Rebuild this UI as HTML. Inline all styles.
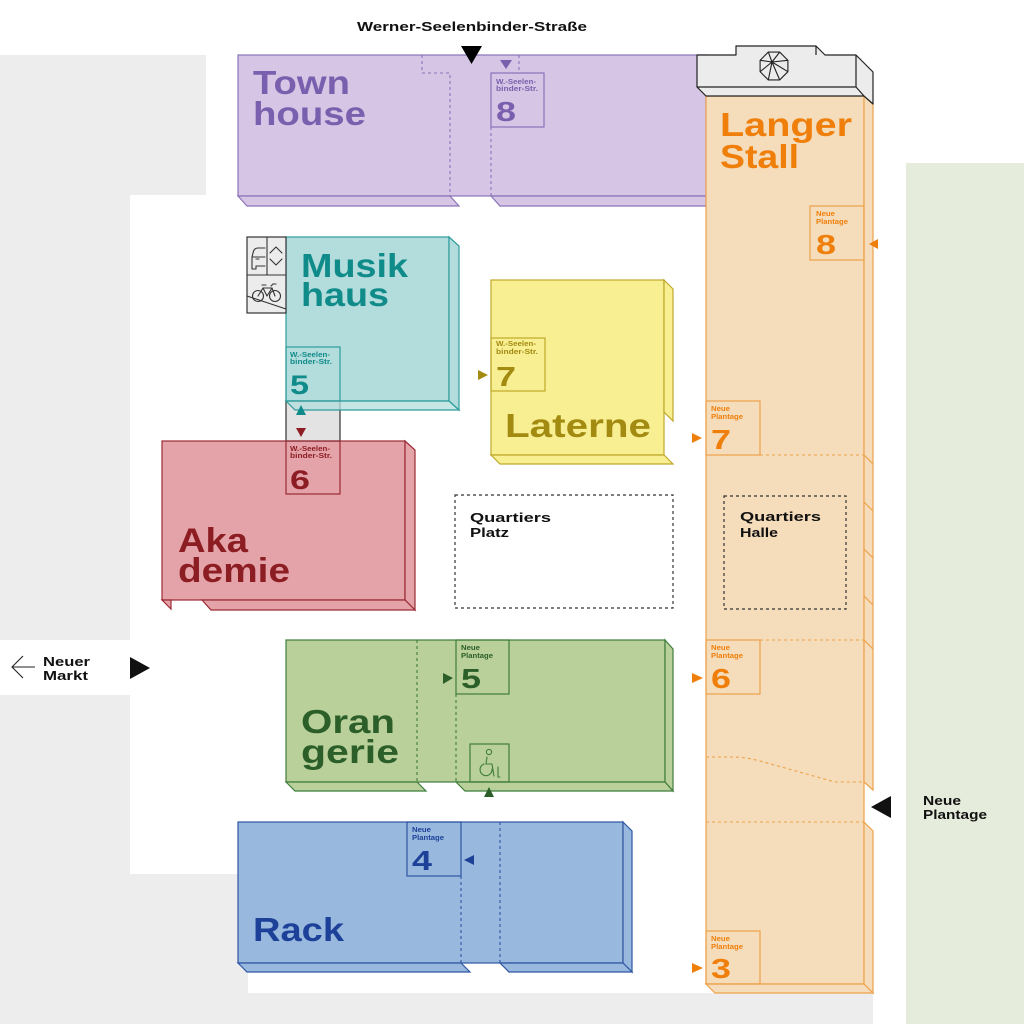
<!DOCTYPE html>
<html><head><meta charset="utf-8">
<style>
html,body{margin:0;padding:0;background:#fff}
svg{display:block}
text{font-family:"Liberation Sans",Arial,sans-serif;font-weight:700}
</style></head><body>
<svg width="1024" height="1024" viewBox="0 0 1024 1024" xmlns="http://www.w3.org/2000/svg">
<rect width="1024" height="1024" fill="#fff"/>
<path d="M0,55 H206 V195 H130 V640 H0 Z M0,695 H130 V874 H248 V993 H873 V1024 H0 Z" fill="#ededed"/>
<rect x="906" y="163" width="118" height="861" fill="#e6ecdb"/>

<!-- Street label -->
<text x="357" y="31" font-size="12.5" fill="#111" textLength="230" lengthAdjust="spacingAndGlyphs">Werner-Seelenbinder-Straße</text>

<!-- Townhouse -->
<g fill="#d6c5e4" stroke="#8a74b8" stroke-width="1.2">
<rect x="238" y="55" width="468" height="141"/>
<polygon points="238,196 450,196 459,206 247,206"/>
<polygon points="491,196 706,196 706,206 500,206"/>
</g>
<g fill="none" stroke="#8a74b8" stroke-width="1.1" stroke-dasharray="3 3">
<path d="M422,55 V73 H450 V196"/>
<path d="M519,55 V73"/>
<path d="M491,127 V196"/>
</g>
<rect x="491" y="73" width="53" height="54" fill="none" stroke="#8a74b8" stroke-width="1.2"/>
<polygon points="500,60 512,60 506,69" fill="#7a5fae"/>
<polygon points="461,46 482,46 471.5,64" fill="#000"/>
<g fill="#7a5fae">
<text x="253" y="94" font-size="33" textLength="97" lengthAdjust="spacingAndGlyphs">Town</text>
<text x="253" y="125" font-size="33" textLength="113" lengthAdjust="spacingAndGlyphs">house</text>
<text x="496" y="84" font-size="7.5" textLength="40" lengthAdjust="spacingAndGlyphs">W.-Seelen-</text>
<text x="496" y="91" font-size="7.5" textLength="42" lengthAdjust="spacingAndGlyphs">binder-Str.</text>
<text x="496" y="121" font-size="28" textLength="20" lengthAdjust="spacingAndGlyphs">8</text>
</g>

<!-- Langer Stall -->
<g fill="#f5dcbb" stroke="#eda24a" stroke-width="1.2">
<rect x="706" y="96" width="158" height="888"/>
<polygon points="864,96 873,104 873,790 864,782"/>
<polygon points="864,822 873,831 873,993 864,984"/>
<polygon points="706,984 864,984 873,993 715,993"/>
</g>
<g stroke="#eda24a" stroke-width="1.2" fill="none">
<path d="M864,455 L873,464 M864,502 L873,511 M864,549 L873,558 M864,596 L873,605 M864,640 L873,649"/>
</g>
<g fill="none" stroke="#eda24a" stroke-width="1.1" stroke-dasharray="3 3">
<path d="M760,455 H864"/>
<path d="M760,640 H864"/>
<path d="M706,822 H864"/>
<path d="M706,757 L733,757 Q745,757 760,761 L835,782 L864,782"/>
</g>
<g fill="none" stroke="#eda24a" stroke-width="1.2">
<rect x="810" y="206" width="54" height="54"/>
<rect x="706" y="401" width="54" height="54"/>
<rect x="706" y="640" width="54" height="54"/>
<rect x="706" y="931" width="54" height="53"/>
</g>
<g fill="#ef7f0a">
<text x="720" y="136" font-size="33" textLength="132" lengthAdjust="spacingAndGlyphs">Langer</text>
<text x="720" y="168" font-size="33" textLength="79" lengthAdjust="spacingAndGlyphs">Stall</text>
<text x="816" y="216" font-size="7.5" textLength="19" lengthAdjust="spacingAndGlyphs">Neue</text>
<text x="816" y="224" font-size="7.5" textLength="32" lengthAdjust="spacingAndGlyphs">Plantage</text>
<text x="816" y="254" font-size="28" textLength="20" lengthAdjust="spacingAndGlyphs">8</text>
<text x="711" y="411" font-size="7.5" textLength="19" lengthAdjust="spacingAndGlyphs">Neue</text>
<text x="711" y="419" font-size="7.5" textLength="32" lengthAdjust="spacingAndGlyphs">Plantage</text>
<text x="711" y="449" font-size="28" textLength="20" lengthAdjust="spacingAndGlyphs">7</text>
<text x="711" y="650" font-size="7.5" textLength="19" lengthAdjust="spacingAndGlyphs">Neue</text>
<text x="711" y="658" font-size="7.5" textLength="32" lengthAdjust="spacingAndGlyphs">Plantage</text>
<text x="711" y="688" font-size="28" textLength="20" lengthAdjust="spacingAndGlyphs">6</text>
<text x="711" y="941" font-size="7.5" textLength="19" lengthAdjust="spacingAndGlyphs">Neue</text>
<text x="711" y="949" font-size="7.5" textLength="32" lengthAdjust="spacingAndGlyphs">Plantage</text>
<text x="711" y="978" font-size="28" textLength="20" lengthAdjust="spacingAndGlyphs">3</text>
<polygon points="878,239 869,244 878,249"/>
<polygon points="692,433 702,438 692,443"/>
<polygon points="692,673 703,678 692,683"/>
<polygon points="692,963 703,968 692,973"/>
</g>

<!-- Gray cap -->
<polygon points="697,55 736,55 736,46 816,46 825,55 856,55 873,72 873,104 864,96 706,96 697,87" fill="#ececec" stroke="#222" stroke-width="1.2" stroke-linejoin="round"/>
<g fill="none" stroke="#222" stroke-width="1.2">
<path d="M697,87 H856 V55 M856,87 L864,96 M816,46 V55"/>
</g>
<g fill="none" stroke="#222" stroke-width="1.1">
<polygon points="787.9,71.7 779.7,79.9 768.3,79.9 760.1,71.7 760.1,60.3 768.3,52.1 779.7,52.1 787.9,60.3"/>
<path d="M772,62 L787.9,71.7 M772,62 L779.7,79.9 M772,62 L768.3,79.9 M772,62 L760.1,71.7 M772,62 L760.1,60.3 M772,62 L768.3,52.1 M772,62 L779.7,52.1 M772,62 L787.9,60.3"/>
</g>
<circle cx="772" cy="62" r="1.5" fill="#222"/>

<!-- Akademie -->
<g fill="#e4a3a8" stroke="#9b2b35" stroke-width="1.2">
<rect x="162" y="441" width="243" height="159"/>
<polygon points="405,441 415,450 415,610 405,600"/>
<polygon points="162,600 171,600 171,609"/>
<polygon points="202,600 405,600 415,610 211,610"/>
</g>

<!-- Connector -->
<rect x="286" y="401" width="54" height="40" fill="#e3e3e3" stroke="#333" stroke-width="1.2"/>

<!-- Musikhaus -->
<g fill="#b3dcdc" stroke="#2e9c9c" stroke-width="1.2">
<rect x="286" y="237" width="163" height="164"/>
<polygon points="449,237 459,246 459,410 449,401"/>
<polygon points="286,401 449,401 459,410 295,410" fill-opacity="0.75"/>
</g>
<rect x="286" y="347" width="54" height="54" fill="none" stroke="#2e9c9c" stroke-width="1.2"/>
<polygon points="296,415 301,405 306,415" fill="#0f8b8a"/>
<polygon points="296,428 306,428 301,437" fill="#8b1d23"/>
<g fill="#0f8b8a">
<text x="301" y="277" font-size="33" textLength="107" lengthAdjust="spacingAndGlyphs">Musik</text>
<text x="301" y="306" font-size="33" textLength="88" lengthAdjust="spacingAndGlyphs">haus</text>
<text x="290" y="357" font-size="7.5" textLength="40" lengthAdjust="spacingAndGlyphs">W.-Seelen-</text>
<text x="290" y="364" font-size="7.5" textLength="42" lengthAdjust="spacingAndGlyphs">binder-Str.</text>
<text x="290" y="394" font-size="27" textLength="19" lengthAdjust="spacingAndGlyphs">5</text>
</g>

<!-- Icons box -->
<rect x="247" y="237" width="39" height="76" fill="#ececec" stroke="#333" stroke-width="1.2"/>
<g fill="none" stroke="#333" stroke-width="1.1" stroke-linecap="round" stroke-linejoin="round">
<path d="M247,275 H286 M267,237 V275"/>
<path d="M265,248 H258 Q254,248 253,253 L252,257 V269 H256 V266 H265"/>
<path d="M256,259 H259 M253,257 H265"/>
<path d="M270,253 L276,247 L282,253"/>
<path d="M270,259 L276,265 L282,259"/>
<circle cx="258" cy="296" r="5.5"/>
<circle cx="275" cy="296" r="5.5"/>
<path d="M258,296 L263,288 L272,288 L275,296 M263,288 L267,296 L272,288 M262,285 H266 M271,286 L273,284 H276"/>
<path d="M247,296 L286,309"/>
</g>

<!-- Box 6 on Akademie -->
<rect x="286" y="441" width="54" height="53" fill="none" stroke="#9b2b35" stroke-width="1.2"/>
<g fill="#8b1d23">
<text x="290" y="451" font-size="7.5" textLength="40" lengthAdjust="spacingAndGlyphs">W.-Seelen-</text>
<text x="290" y="458" font-size="7.5" textLength="42" lengthAdjust="spacingAndGlyphs">binder-Str.</text>
<text x="290" y="489" font-size="27" textLength="20" lengthAdjust="spacingAndGlyphs">6</text>
<text x="178" y="552" font-size="34" textLength="70" lengthAdjust="spacingAndGlyphs">Aka</text>
<text x="178" y="582" font-size="34" textLength="112" lengthAdjust="spacingAndGlyphs">demie</text>
</g>

<!-- Laterne -->
<g fill="#f8ef92" stroke="#bfa82a" stroke-width="1.2">
<rect x="491" y="280" width="173" height="175"/>
<polygon points="664,280 673,289 673,421 664,412"/>
<polygon points="491,455 664,455 673,464 500,464"/>
</g>
<rect x="491" y="338" width="54" height="53" fill="none" stroke="#bfa82a" stroke-width="1.2"/>
<g fill="#a38b12">
<polygon points="478,370 488,375 478,380"/>
<text x="496" y="346" font-size="7.5" textLength="40" lengthAdjust="spacingAndGlyphs">W.-Seelen-</text>
<text x="496" y="354" font-size="7.5" textLength="42" lengthAdjust="spacingAndGlyphs">binder-Str.</text>
<text x="496" y="386" font-size="28" textLength="20" lengthAdjust="spacingAndGlyphs">7</text>
<text x="505" y="437" font-size="33" textLength="146" lengthAdjust="spacingAndGlyphs">Laterne</text>
</g>

<!-- Quartiers Platz / Halle -->
<g fill="none" stroke="#333" stroke-width="1.2" stroke-dasharray="3 3">
<rect x="455" y="495" width="218" height="113"/>
<rect x="724" y="496" width="122" height="113"/>
</g>
<g fill="#111">
<text x="470" y="522" font-size="13" textLength="81" lengthAdjust="spacingAndGlyphs">Quartiers</text>
<text x="470" y="537" font-size="13" textLength="39" lengthAdjust="spacingAndGlyphs">Platz</text>
<text x="740" y="521" font-size="13" textLength="81" lengthAdjust="spacingAndGlyphs">Quartiers</text>
<text x="740" y="537" font-size="13" textLength="38" lengthAdjust="spacingAndGlyphs">Halle</text>
</g>

<!-- Orangerie -->
<g fill="#b9d09a" stroke="#3f7d3c" stroke-width="1.2">
<rect x="286" y="640" width="379" height="142"/>
<polygon points="665,640 673,649 673,791 665,782"/>
<polygon points="286,782 417,782 426,791 295,791"/>
<polygon points="456,782 665,782 673,791 465,791"/>
</g>
<g fill="none" stroke="#3f7d3c" stroke-width="1.1" stroke-dasharray="3 3">
<path d="M417,640 V782"/>
<path d="M456,694 V782"/>
</g>
<g fill="none" stroke="#3f7d3c" stroke-width="1.2">
<rect x="456" y="640" width="53" height="54"/>
<rect x="470" y="744" width="39" height="38"/>
</g>
<g fill="none" stroke="#3f7d3c" stroke-width="1.1" stroke-linecap="round">
<circle cx="489" cy="752" r="2.6"/>
<path d="M487,757 L486,764 H492 L494,776"/>
<path d="M484,764 A6,6 0 1 0 492,769"/>
<path d="M498,767 V777 H500"/>
</g>
<g fill="#2b5e28">
<polygon points="443,673 453,678 443,684"/>
<polygon points="484,797 489,787 494,797"/>
<text x="461" y="650" font-size="7.5" textLength="19" lengthAdjust="spacingAndGlyphs">Neue</text>
<text x="461" y="658" font-size="7.5" textLength="32" lengthAdjust="spacingAndGlyphs">Plantage</text>
<text x="461" y="688" font-size="28" textLength="20" lengthAdjust="spacingAndGlyphs">5</text>
<text x="301" y="733" font-size="33" textLength="94" lengthAdjust="spacingAndGlyphs">Oran</text>
<text x="301" y="763" font-size="33" textLength="98" lengthAdjust="spacingAndGlyphs">gerie</text>
</g>

<!-- Rack -->
<g fill="#98b8dd" stroke="#2f56a4" stroke-width="1.2">
<rect x="238" y="822" width="385" height="141"/>
<polygon points="623,822 632,831 632,972 623,963"/>
<polygon points="238,963 461,963 470,972 247,972"/>
<polygon points="500,963 623,963 632,972 509,972"/>
</g>
<g fill="none" stroke="#2f56a4" stroke-width="1.1" stroke-dasharray="3 3">
<path d="M461,876 V963"/>
<path d="M500,822 V963"/>
</g>
<rect x="407" y="822" width="54" height="54" fill="none" stroke="#2f56a4" stroke-width="1.2"/>
<g fill="#1d4199">
<polygon points="474,855 464,860 474,865"/>
<text x="412" y="832" font-size="7.5" textLength="19" lengthAdjust="spacingAndGlyphs">Neue</text>
<text x="412" y="840" font-size="7.5" textLength="32" lengthAdjust="spacingAndGlyphs">Plantage</text>
<text x="412" y="870" font-size="28" textLength="20" lengthAdjust="spacingAndGlyphs">4</text>
<text x="253" y="941" font-size="33" textLength="91" lengthAdjust="spacingAndGlyphs">Rack</text>
</g>

<!-- Neuer Markt -->
<g fill="none" stroke="#222" stroke-width="1.1">
<path d="M12,667 H35 M23,656 L12,667 L23,678"/>
</g>
<g fill="#111">
<text x="43" y="666" font-size="13" textLength="47" lengthAdjust="spacingAndGlyphs">Neuer</text>
<text x="43" y="680" font-size="13" textLength="45" lengthAdjust="spacingAndGlyphs">Markt</text>
<polygon points="130,657 150,668 130,679"/>
</g>

<!-- Neue Plantage -->
<g fill="#111">
<polygon points="891,796 871,807 891,818"/>
<text x="923" y="805" font-size="13" textLength="38" lengthAdjust="spacingAndGlyphs">Neue</text>
<text x="923" y="819" font-size="13" textLength="64" lengthAdjust="spacingAndGlyphs">Plantage</text>
</g>
</svg>
</body></html>
